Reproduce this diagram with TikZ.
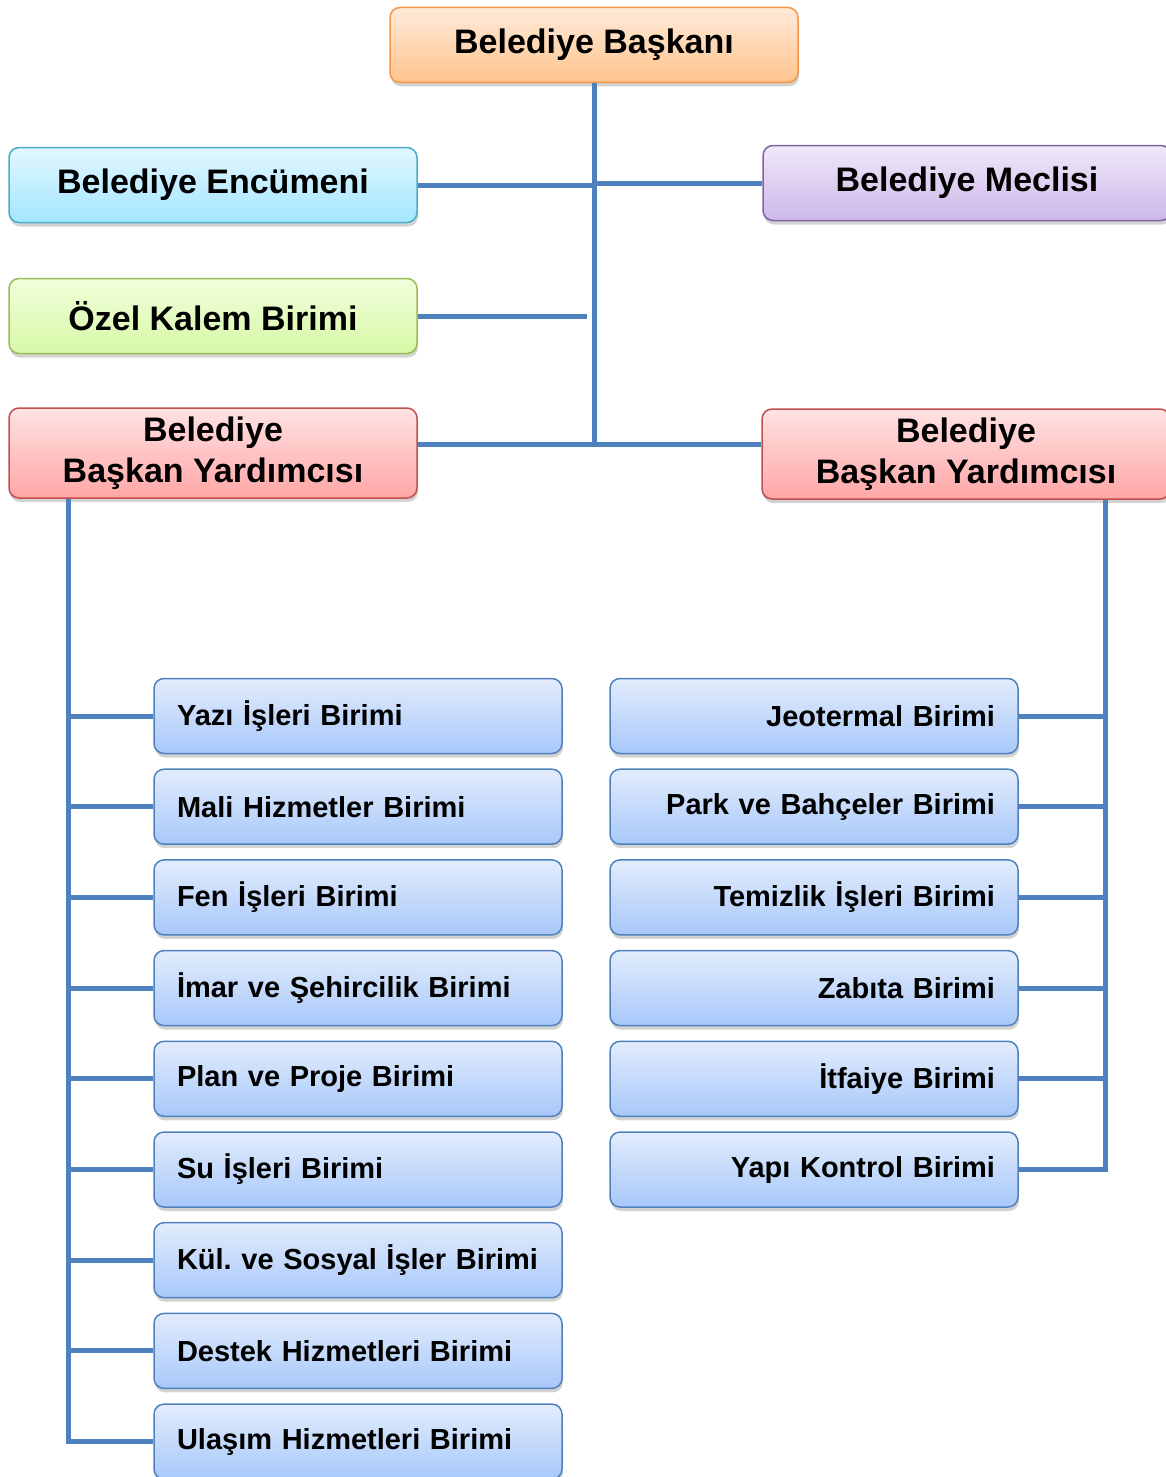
\documentclass[tikz,border=0pt]{standalone}
\usepackage{fontspec}
\setmainfont{Liberation Sans}
\usetikzlibrary{shadows}
\definecolor{L1}{RGB}{79,129,189}
\definecolor{O1}{RGB}{255,234,218}
\definecolor{O2}{RGB}{255,196,140}
\definecolor{O3}{RGB}{247,150,70}
\definecolor{C1}{RGB}{226,247,255}
\definecolor{C2}{RGB}{164,230,255}
\definecolor{C3}{RGB}{75,172,198}
\definecolor{G1}{RGB}{242,255,220}
\definecolor{G2}{RGB}{214,248,166}
\definecolor{G3}{RGB}{155,187,89}
\definecolor{R1}{RGB}{255,226,226}
\definecolor{R2}{RGB}{255,166,166}
\definecolor{R3}{RGB}{192,80,77}
\definecolor{P1}{RGB}{240,232,250}
\definecolor{P2}{RGB}{204,184,232}
\definecolor{P3}{RGB}{128,100,162}
\definecolor{B1}{RGB}{226,236,252}
\definecolor{B2}{RGB}{168,200,250}

\begin{document}
\begin{tikzpicture}[x=1pt, y=-1pt,
    box/.style={draw, line width=1.5pt, rounded corners=10pt, minimum width=408pt,
      minimum height=75pt, align=center, font=\bfseries\fontsize{34}{41}\selectfont,
      drop shadow={shadow xshift=1pt, shadow yshift=-4pt, opacity=0.35}},
    unit/.style={box, draw=L1, top color=B1, bottom color=B2, text width=362pt,
      inner xsep=23pt, font=\bfseries\frenchspacing\fontsize{29}{33}\selectfont},
    link/.style={L1, line width=5pt}]
      \useasboundingbox (0,0) rectangle (1166,1477);
      % top level
      \node[box, draw=O3, top color=O1, bottom color=O2] (bsk) at (594,45) {Belediye Başkanı};
      \node[box, draw=C3, top color=C1, bottom color=C2] (enc) at (213,185) {Belediye Encümeni};
      \node[box, draw=P3, top color=P1, bottom color=P2] (mec) at (967,183) {Belediye Meclisi};
      \node[box, draw=G3, top color=G1, bottom color=G2] (ozl) at (213,316) {Özel Kalem Birimi};
      \node[box, draw=R3, top color=R1, bottom color=R2, minimum height=90pt] (by1) at (213,453) {Belediye\\Başkan Yardımcısı};
      \node[box, draw=R3, top color=R1, bottom color=R2, minimum height=90pt] (by2) at (966,454) {Belediye\\Başkan Yardımcısı};
      \coordinate (tr) at (594,444);
      \draw[link] (bsk.south) -- (bsk.south |- tr);
      \draw[link] (enc.east) -- (enc.east -| tr);
      \draw[link] (mec.west) -- (mec.west -| tr);
      \draw[link, shorten >=7pt] (ozl.east) -- (ozl.east -| tr);
      \draw[link] (tr -| by1.east) -- (tr) -- (tr -| by2.west);
      % units
      \foreach \t [count=\i] in {Yazı İşleri Birimi, Mali Hizmetler Birimi, Fen İşleri Birimi,
          İmar ve Şehircilik Birimi, Plan ve Proje Birimi, Su İşleri Birimi,
          Kül. ve Sosyal İşler Birimi, Destek Hizmetleri Birimi, Ulaşım Hizmetleri Birimi}
        \node[unit, align=left] (l\i) at (358,{625.3+90.7*\i}) {\hbox{\t}};
      \foreach \t [count=\i] in {Jeotermal Birimi, Park ve Bahçeler Birimi, Temizlik İşleri Birimi,
          Zabıta Birimi, İtfaiye Birimi, Yapı Kontrol Birimi}
        \node[unit, align=right] (r\i) at (814,{625.3+90.7*\i}) {\t};
      \coordinate (lb) at (68,0);
      \coordinate (rb) at (1105,0);
      \draw[link] (lb |- by1.south) -- (lb |- l9) -- (l9.west);
      \foreach \i in {1,...,8} \draw[link] (lb |- l\i) -- (l\i.west);
      \draw[link] (rb |- by2.south) -- (rb |- r6) -- (r6.east);
      \foreach \i in {1,...,5} \draw[link] (rb |- r\i) -- (r\i.east);
    \end{tikzpicture}
\end{document}
